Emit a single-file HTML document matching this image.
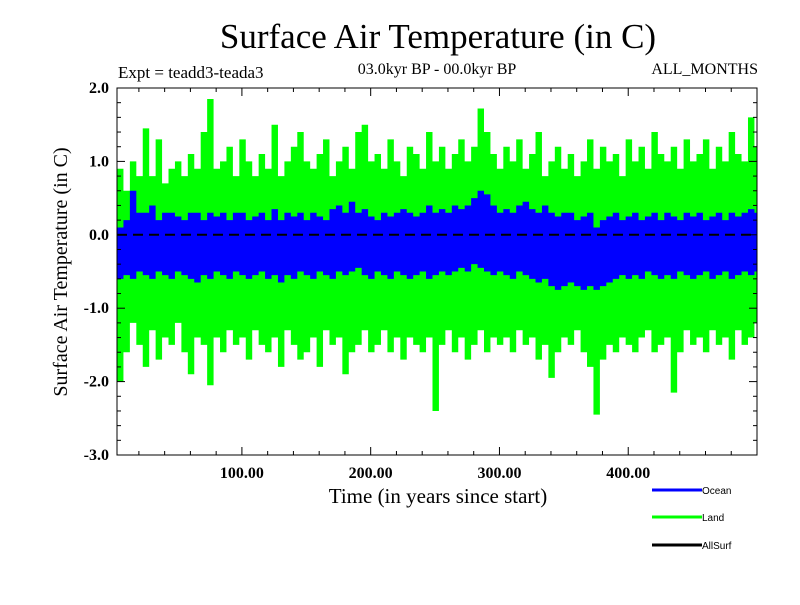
<!DOCTYPE html>
<html><head><meta charset="utf-8"><style>
body{margin:0;background:#fff}
svg text{font-family:"Liberation Serif",serif}
</style></head><body>
<svg id="c" width="800" height="600" xmlns="http://www.w3.org/2000/svg">
<text x="438" y="48" font-size="35" text-anchor="middle">Surface Air Temperature (in C)</text>
<text x="118" y="78" font-size="17">Expt = teadd3-teada3</text>
<text x="437" y="74" font-size="16" text-anchor="middle">03.0kyr BP - 00.0kyr BP</text>
<text x="758" y="74" font-size="16" text-anchor="end">ALL_MONTHS</text>
<text transform="translate(67,272) rotate(-90)" font-size="20" text-anchor="middle">Surface Air Temperature (in C)</text>
<text x="438" y="503" font-size="21" text-anchor="middle">Time (in years since start)</text>
<g id="plot"></g>
<g id="axes"></g>
<g font-family="Liberation Sans,sans-serif" font-size="10">
<line x1="652" y1="490" x2="702" y2="490" stroke="#0000ff" stroke-width="3"/>
<text x="702" y="494" style="font-family:'Liberation Sans',sans-serif" font-size="10">Ocean</text>
<line x1="652" y1="517" x2="702" y2="517" stroke="#00ff00" stroke-width="3"/>
<text x="702" y="521" style="font-family:'Liberation Sans',sans-serif" font-size="10">Land</text>
<line x1="652" y1="545" x2="702" y2="545" stroke="#000" stroke-width="3"/>
<text x="702" y="549" style="font-family:'Liberation Sans',sans-serif" font-size="10">AllSurf</text>
</g>
</svg>
<script>
const binStart=3, binWidth=5;
const landMax=[0.9,0.6,1.0,0.8,1.45,0.8,1.3,0.7,0.9,1.0,0.8,1.1,0.9,1.4,1.85,0.9,1.0,1.2,0.8,1.3,1.0,0.8,1.1,0.9,1.5,0.8,1.0,1.2,1.4,1.0,0.9,1.1,1.3,0.8,1.0,1.2,0.9,1.4,1.5,1.0,1.1,0.9,1.3,1.0,0.8,1.2,1.1,0.9,1.4,1.0,1.2,0.9,1.1,1.3,1.0,1.2,1.72,1.4,1.1,0.9,1.2,1.0,1.3,0.9,1.1,1.4,0.8,1.0,1.2,0.9,1.1,0.8,1.0,1.3,0.9,1.2,1.0,1.1,0.8,1.3,1.0,1.2,0.9,1.4,1.1,1.0,1.2,0.9,1.3,1.0,1.1,1.3,0.9,1.2,1.0,1.4,1.1,1.0,1.6,1.2];
const landMin=[-2.0,-1.6,-1.2,-1.5,-1.8,-1.3,-1.7,-1.4,-1.5,-1.2,-1.6,-1.9,-1.4,-1.5,-2.05,-1.4,-1.6,-1.3,-1.5,-1.4,-1.7,-1.3,-1.5,-1.6,-1.4,-1.8,-1.3,-1.5,-1.7,-1.6,-1.4,-1.8,-1.3,-1.5,-1.4,-1.9,-1.6,-1.5,-1.3,-1.6,-1.5,-1.3,-1.6,-1.4,-1.7,-1.4,-1.5,-1.6,-1.4,-2.4,-1.5,-1.3,-1.6,-1.4,-1.7,-1.5,-1.3,-1.6,-1.4,-1.5,-1.4,-1.6,-1.3,-1.5,-1.4,-1.7,-1.5,-1.95,-1.6,-1.4,-1.5,-1.3,-1.6,-1.8,-2.45,-1.7,-1.5,-1.6,-1.4,-1.5,-1.6,-1.4,-1.3,-1.6,-1.5,-1.4,-2.15,-1.6,-1.3,-1.5,-1.4,-1.6,-1.3,-1.5,-1.4,-1.7,-1.3,-1.5,-1.4,-1.2];
const oceanMax=[0.1,0.2,0.6,0.3,0.3,0.4,0.2,0.3,0.3,0.25,0.2,0.3,0.3,0.2,0.3,0.25,0.3,0.2,0.3,0.3,0.2,0.25,0.3,0.2,0.35,0.2,0.3,0.25,0.3,0.2,0.3,0.25,0.2,0.35,0.4,0.3,0.45,0.3,0.35,0.25,0.2,0.3,0.25,0.3,0.35,0.3,0.25,0.3,0.4,0.3,0.35,0.3,0.4,0.35,0.4,0.5,0.6,0.55,0.4,0.3,0.35,0.3,0.4,0.45,0.35,0.3,0.4,0.3,0.25,0.3,0.3,0.2,0.25,0.3,0.1,0.2,0.25,0.3,0.2,0.25,0.3,0.2,0.25,0.3,0.2,0.3,0.25,0.2,0.3,0.25,0.3,0.2,0.25,0.3,0.2,0.3,0.25,0.3,0.35,0.3];
const oceanMin=[-0.6,-0.55,-0.6,-0.5,-0.55,-0.6,-0.5,-0.55,-0.6,-0.5,-0.55,-0.6,-0.65,-0.55,-0.6,-0.5,-0.55,-0.6,-0.5,-0.55,-0.6,-0.55,-0.5,-0.6,-0.55,-0.65,-0.55,-0.6,-0.5,-0.55,-0.6,-0.5,-0.55,-0.6,-0.5,-0.55,-0.5,-0.45,-0.55,-0.6,-0.5,-0.55,-0.6,-0.5,-0.55,-0.6,-0.55,-0.5,-0.6,-0.55,-0.5,-0.55,-0.5,-0.45,-0.5,-0.4,-0.45,-0.5,-0.55,-0.5,-0.55,-0.6,-0.5,-0.55,-0.6,-0.65,-0.6,-0.7,-0.75,-0.7,-0.65,-0.7,-0.75,-0.7,-0.75,-0.7,-0.65,-0.6,-0.55,-0.6,-0.55,-0.6,-0.5,-0.55,-0.6,-0.55,-0.6,-0.5,-0.55,-0.6,-0.55,-0.5,-0.6,-0.55,-0.5,-0.6,-0.55,-0.5,-0.55,-0.5];
const yTicks=[2.0,1.0,0.0,-1.0,-2.0,-3.0];
const yTickLabels=["2.0","1.0","0.0","-1.0","-2.0","-3.0"];
const xTicks=[100,200,300,400];
const xTickLabels=["100.00","200.00","300.00","400.00"];

const X0=117,X1=757,Y0=88,Y1=455,xmin=3,xmax=500,ymin=-3,ymax=2;
const xs=v=>X0+(v-xmin)/(xmax-xmin)*(X1-X0);
const ys=v=>Y1-(v-ymin)/(ymax-ymin)*(Y1-Y0);
const NS="http://www.w3.org/2000/svg";
function mk(tag,attrs,parent){const e=document.createElementNS(NS,tag);for(const k in attrs)e.setAttribute(k,attrs[k]);parent.appendChild(e);return e;}
const plot=document.getElementById('plot'),axes=document.getElementById('axes');
function band(maxA,minA,color,name){
  let top=[],bot=[];
  for(let i=0;i<maxA.length;i++){
    const a=xs(binStart+i*binWidth),b=xs(Math.min(binStart+(i+1)*binWidth,xmax));
    top.push(a+','+ys(maxA[i]),b+','+ys(maxA[i]));
    bot.push(a+','+ys(minA[i]),b+','+ys(minA[i]));
  }
  const p=mk('polygon',{points:top.concat(bot.reverse()).join(' '),fill:color},plot);
  
  
}
band(landMax,landMin,'#00ff00','land-series');
band(oceanMax,oceanMin,'#0000ff','ocean-series');
const z=mk('line',{x1:X0,x2:X1,y1:ys(0),y2:ys(0),stroke:'#000','stroke-width':2,'stroke-dasharray':'10,6'},plot);


const fr=mk('rect',{x:X0,y:Y0,width:X1-X0,height:Y1-Y0,fill:'none',stroke:'#000','stroke-width':1},axes);


for(let v=-3;v<=2.001;v+=0.2){
  const major=Math.abs(v-Math.round(v))<1e-6, L=major?8:4, y=ys(v);
  mk('line',{x1:X0,x2:X0+L,y1:y,y2:y,stroke:'#000'},axes);
  mk('line',{x1:X1,x2:X1-L,y1:y,y2:y,stroke:'#000'},axes);
}
yTicks.forEach((v,i)=>{
  const t=mk('text',{x:X0-8,y:ys(v)+5,'font-size':16,'font-weight':'bold','text-anchor':'end'},axes);
  t.textContent=yTickLabels[i];
  
  
});
for(let v=20;v<=xmax;v+=20){
  const major=v%100===0, L=major?8:4, x=xs(v);
  mk('line',{x1:x,x2:x,y1:Y1,y2:Y1-L,stroke:'#000'},axes);
  mk('line',{x1:x,x2:x,y1:Y0,y2:Y0+L,stroke:'#000'},axes);
}
xTicks.forEach((v,i)=>{
  const t=mk('text',{x:xs(v),y:Y1+23,'font-size':16,'font-weight':'bold','text-anchor':'middle'},axes);
  t.textContent=xTickLabels[i];
  
  
});
</script>
</body></html>
